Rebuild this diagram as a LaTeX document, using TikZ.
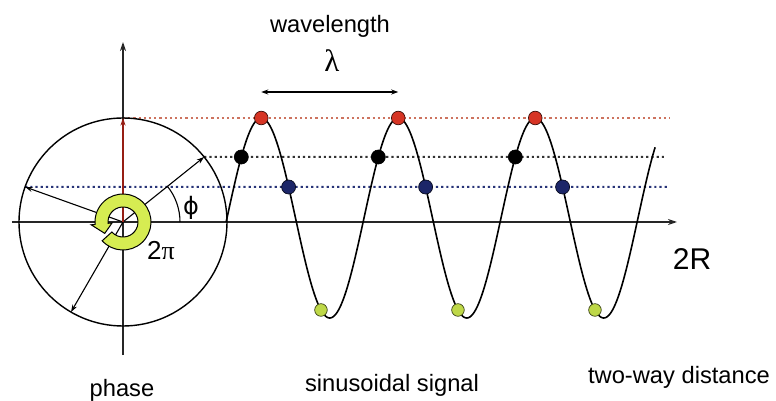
\documentclass[tikz,border=0pt]{standalone}
\usepackage{fontspec}
\setmainfont{Liberation Sans}
\newfontfamily\greekfont{Liberation Serif}
\newfontfamily\phifont{DejaVu Sans}
\usetikzlibrary{arrows.meta}

\definecolor{dotred}{RGB}{214,52,36}
\definecolor{dotblue}{RGB}{28,38,104}
\definecolor{dotgreen}{RGB}{190,216,72}
\definecolor{ringgreen}{RGB}{214,236,82}
\definecolor{phasered}{RGB}{150,30,20}
\definecolor{guidered}{RGB}{205,115,95}
\definecolor{guideblue}{RGB}{40,52,120}

\tikzset{
  guide/.style={line width=2pt, dash pattern=on 2.2pt off 3pt},
  ptr/.style={-{Stealth[length=7.5pt,width=5pt]}, line width=1.1pt},
  lbl/.style={font=\fontsize{23.7}{28}\selectfont, inner sep=0pt},
}

\begin{document}
\begin{tikzpicture}[x=1pt,y=1pt]
\useasboundingbox (-123,-179) rectangle (653,222);

% gestrichelte Hilfslinien
\draw[guide, guidered] (90:104) -- (547,104);
\draw[guide, black!80] (38.7:104) -- (542,65);
\draw[guide, guideblue] (160.3:104) -- (544,35);

% Achsen
\draw[line width=1.5pt, black!85, -{Stealth[length=9pt,width=6pt]}] (-111,0) -- (554,0);
\draw[line width=1.5pt, black!85, -{Stealth[length=9pt,width=6pt]}] (0,-133) -- (0,180);

% Phasenkreis
\draw[line width=1.4pt] (0,0) circle (104);

% Zeiger
\draw[ptr] (0,0) -- (38.7:104);
\draw[ptr] (0,0) -- (160.3:104);
\draw[ptr] (0,0) -- (240:104);
\draw[ptr, phasered] (0,0) -- (90:104);

% Winkel phi
\draw[line width=1.1pt] (57,0) arc[start angle=0, end angle=38.7, radius=57];

% Ringpfeil 2pi
\filldraw[fill=ringgreen, draw=black, line width=1pt]
  (222:28) arc[start angle=222, end angle=545, radius=28]
  -- (545:32) -- (572:21.5) -- (545:11) -- (545:15)
  arc[start angle=545, end angle=222, radius=15] -- cycle;

% Sinussignal
\draw[line width=1.6pt] plot[domain=-2.3:1125, samples=400, smooth]
  ({104+\x/360*137},{4+100*sin(\x)});

% Punkte auf der Welle
\foreach \k in {0,1,2} {
  \foreach \t/\c/\r in {37.59/black/7, 90/dotred/6.8, 161.94/dotblue/7, 246.9/dotgreen/6.3} {
    \filldraw[fill=\c, draw=black!70!\c, line width=0.7pt]
      ({104+(\t/360+\k)*137},{4+100*sin(\t)}) circle (\r);
  }
}

% Wellenlaenge
\coordinate (peakA) at (138.25,130);
\coordinate (peakB) at (275.25,130);
\draw[line width=1.3pt, {Stealth[length=7pt,width=5pt]}-{Stealth[length=7pt,width=5pt]}] (peakA) -- (peakB);

% Beschriftungen
\node[lbl, anchor=base] (wl) at (207,189) {wavelength};
\node[font=\greekfont\fontsize{31}{31}\selectfont, inner sep=0pt, anchor=base] (lam) at (209,150) {λ};
\node[font=\phifont\fontsize{24}{26}\selectfont, inner sep=0pt] (phi) at (68,14) {ϕ};
\node[font=\fontsize{26}{28}\selectfont, inner sep=0pt] (twopi) at (38,-29) {2{\greekfont π}};
\node[font=\fontsize{30}{32}\selectfont, inner sep=0pt, anchor=base] (tworr) at (569,-48) {2R};
\node[lbl, anchor=base] (ph) at (-1,-174) {phase};
\node[lbl, anchor=base] (sig) at (269,-169) {sinusoidal signal};
\node[lbl, anchor=base] (dist) at (556,-161) {two-way distance};

\end{tikzpicture}
\end{document}
